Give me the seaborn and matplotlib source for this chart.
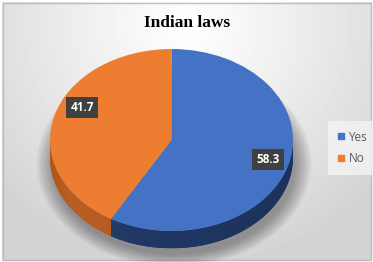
import numpy as np
import matplotlib
matplotlib.use("Agg")
import matplotlib.pyplot as plt
import seaborn as sns
from matplotlib.patches import Polygon, Ellipse, Rectangle
from matplotlib.lines import Line2D
import matplotlib.colors as mcolors

# ---- data ----
categories = ["Yes", "No"]
values = [58.3, 41.7]
title = "Indian laws"

# ---- style ----
top_colors = ["#4472C4", "#ED7D31"]
side_colors = ["#1F3864", "#B5581C"]

sns.set_theme(style="white")
plt.rcParams['font.family'] = ['DejaVu Sans']

W, H = 373, 262
fig = plt.figure(figsize=(W / 100, H / 100), dpi=100)

# background gradient + border
bg = fig.add_axes([0, 0, 1, 1])
yy, xx = np.mgrid[0:H, 0:W]
d = np.sqrt(((xx - 186) / 250.0) ** 2 + ((yy - 25) / 240.0) ** 2)
v = 1.0 - 0.17 * np.clip(d, 0, 1) ** 1.1
bg.imshow(v, cmap='gray', vmin=0, vmax=1, extent=[0, W, H, 0], aspect='auto', interpolation='bilinear')
bg.set_xlim(0, W)
bg.set_ylim(H, 0)
bg.axis('off')
bg.add_patch(Rectangle((0, 0), W, H, fill=False, ec="white", lw=2))
bg.add_patch(Rectangle((2.5, 2.5), W - 5, H - 5, fill=False, ec="#bdbdbd", lw=1))

# pie axes geometry (pixels)
cx, cy, rx, ry = 171.5, 140.0, 121.5, 91.0
xl, xr, yb, yt = -1.3, 1.3, -1.35, 1.1
left = (cx + xl * rx) / W
width = (xr - xl) * rx / W
top = cy - yt * ry
height = (yt - yb) * ry / H
bottom = 1 - (top + (yt - yb) * ry) / H
ax = fig.add_axes([left, bottom, width, height])
ax.patch.set_alpha(0)

depth = 0.19

# soft shadow
for i in range(12):
    s = 1.0 + 0.012 * i
    ax.add_patch(Ellipse((0.02, -depth - 0.07), 2 * s * 1.0, 2 * s * 1.0,
                         fc="black", ec="none", alpha=0.03, zorder=0))

wedges, _ = ax.pie(values, colors=top_colors, startangle=90, counterclock=False,
                   radius=1, wedgeprops=dict(linewidth=0))
for w in wedges:
    w.set_zorder(5)

def shade(c, f):
    r, g, b = mcolors.to_rgb(c)
    if f >= 1:
        return (r + (1 - r) * (f - 1), g + (1 - g) * (f - 1), b + (1 - b) * (f - 1))
    return (r * f, g * f, b * f)

# side walls computed from wedge angles
gx = np.linspace(-1, 1, 200)
for w, sc in zip(wedges, side_colors):
    a1, a2 = w.theta1, w.theta2
    for k in (-2, -1, 0, 1):
        lo = max(a1 + 360 * k, -180)
        hi = min(a2 + 360 * k, 0)
        if hi <= lo:
            continue
        seg = np.radians(np.linspace(lo, hi, 120))
        xs, ys = np.cos(seg), np.sin(seg)
        poly = np.concatenate([np.column_stack([xs, ys]),
                               np.column_stack([xs[::-1], ys[::-1] - depth])])
        p = Polygon(poly, closed=True, fc=sc, ec="none", zorder=2)
        ax.add_patch(p)
        # horizontal shading gradient clipped to the wall
        f = 1.06 - 0.16 * (gx + 1) / 2 - 0.08 * np.exp(-((gx + 1) / 0.12) ** 2)
        img = np.array([shade(sc, fi) for fi in f])[None, :, :]
        im = ax.imshow(img, extent=[-1, 1, -1 - depth, 0.05], aspect='auto',
                       zorder=3, interpolation='bilinear')
        im.set_clip_path(p)

ax.set_xlim(xl, xr)
ax.set_ylim(yb, yt)
ax.set_aspect('auto')
ax.axis('off')

# data labels
label_r = [0.82, 0.76]
label_dy = [0.0, 0.16]
for w, val, r, dy in zip(wedges, values, label_r, label_dy):
    ang = np.radians((w.theta1 + w.theta2) / 2)
    ax.text(r * np.cos(ang), r * np.sin(ang) + dy, f"{val:.1f}", ha="center", va="center",
            color="white", fontsize=8.5, fontweight="bold", family=["Open Sans", "DejaVu Sans"],
            bbox=dict(boxstyle="square,pad=0.35", fc="#404040", ec="none"), zorder=10)

# title
fig.text(187 / W, 1 - 23 / H, title, ha="center", va="center", fontsize=12.5,
         fontweight="bold", family=["Liberation Serif", "DejaVu Serif"], color="#000000")

# legend
handles = [Line2D([0], [0], marker="s", linestyle="none", markersize=5,
                  markerfacecolor=c, markeredgecolor=c) for c in top_colors]
leg = fig.legend(handles, categories, loc="center left",
                 bbox_to_anchor=(326 / W, 1 - 148 / H), frameon=True,
                 handlelength=0.6, handletextpad=0.3, labelspacing=0.75,
                 borderpad=0.5, prop={"family": ["Open Sans", "DejaVu Sans"], "size": 8.5})
leg.get_frame().set_facecolor("#f4f4f4")
leg.get_frame().set_edgecolor("none")
leg.get_frame().set_boxstyle("square")
for t in leg.get_texts():
    t.set_color("#595959")

fig.savefig("out.png", dpi=100)
